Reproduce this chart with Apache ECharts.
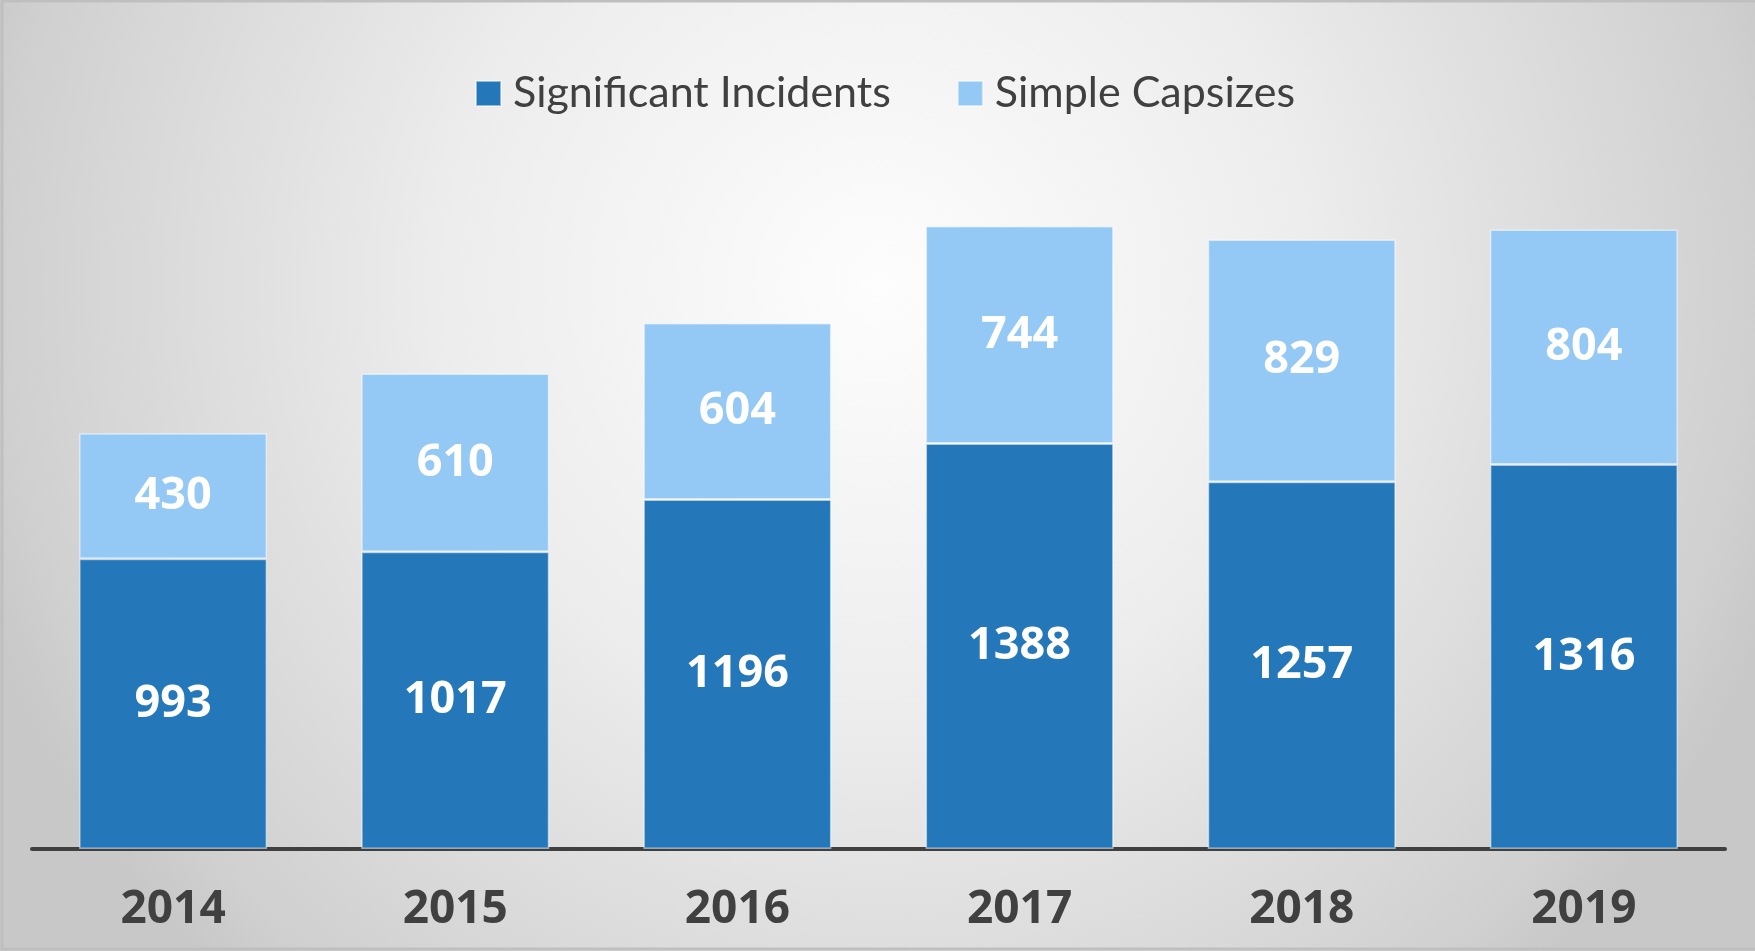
<!DOCTYPE html>
<html>
<head>
<meta charset="utf-8">
<title>Incidents and capsizes</title>
<script src="https://cdn.jsdelivr.net/npm/echarts@6/dist/echarts.min.js"></script>
<style>
  html, body { margin: 0; padding: 0; background: #fff; }
  #main { width: 1755px; height: 951px; }
</style>
</head>
<body>
<div id="main"></div>
<script>
var years = ['2014', '2015', '2016', '2017', '2018', '2019'];
var significant = [993, 1017, 1196, 1388, 1257, 1316];
var capsizes = [430, 610, 604, 744, 829, 804];

var darkBlue = '#2478ba';
var lightBlue = '#95c9f5';
var textGrey = '#404040';

var labelStyle = {
  show: true,
  position: 'inside',
  color: '#ffffff',
  fontFamily: 'Open Sans',
  fontWeight: 'bold',
  fontSize: 45
};

var mycharts = echarts.init(document.getElementById('main'));
var options = {
  backgroundColor: {
    type: 'radial',
    x: 0.5,
    y: 0.3,
    r: 1.0,
    colorStops: [
      { offset: 0, color: '#fdfdfd' },
      { offset: 0.45, color: '#ededed' },
      { offset: 0.92, color: '#d0d0d0' },
      { offset: 1, color: '#c8c8c8' }
    ]
  },
  animation: false,
  graphic: [{
    type: 'rect',
    shape: { x: 2, y: 1, width: 1760, height: 948 },
    style: { fill: 'none', stroke: '#bfbfbf', lineWidth: 3 },
    silent: true
  }],
  legend: {
    left: 475,
    top: 72,
    padding: 0,
    itemWidth: 25,
    itemHeight: 25,
    itemGap: 66,
    icon: 'rect',
    textStyle: {
      color: textGrey,
      fontFamily: 'Lato',
      fontSize: 43,
      padding: [0, 0, 0, 7]
    },
    data: ['Significant Incidents', 'Simple Capsizes']
  },
  grid: {
    left: 32,
    right: 30,
    top: 118.5,
    bottom: 102,
    containLabel: false
  },
  xAxis: {
    type: 'category',
    data: years,
    axisLine: { lineStyle: { color: textGrey, width: 4 } },
    axisTick: { show: false },
    axisLabel: {
      color: textGrey,
      fontFamily: 'Open Sans',
      fontWeight: 'bold',
      fontSize: 46,
      margin: 38
    }
  },
  yAxis: {
    type: 'value',
    min: 0,
    max: 2500,
    show: false,
    splitLine: { show: false }
  },
  series: [{
    name: 'Significant Incidents',
    type: 'bar',
    stack: 'total',
    barWidth: 188,
    data: significant,
    itemStyle: {
      color: darkBlue,
      borderColor: 'rgba(255,255,255,0.5)',
      borderWidth: 1.5
    },
    label: labelStyle
  }, {
    name: 'Simple Capsizes',
    type: 'bar',
    stack: 'total',
    barWidth: 188,
    data: capsizes,
    itemStyle: {
      color: lightBlue,
      borderColor: 'rgba(255,255,255,0.5)',
      borderWidth: 1.5
    },
    label: labelStyle
  }]
};
mycharts.setOption(options);
</script>
</body>
</html>
